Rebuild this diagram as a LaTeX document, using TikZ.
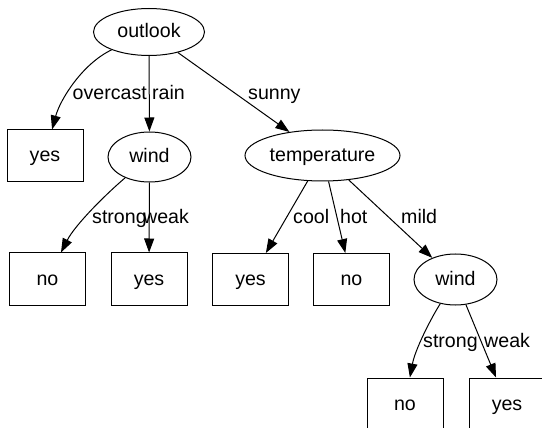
\documentclass[tikz,border=0pt]{standalone}
\usepackage{fontspec}
\setmainfont{Liberation Sans}
\usetikzlibrary{shapes,arrows.meta,positioning}
\tikzset{
  attr/.style={draw, ellipse, inner sep=0pt, text height=14pt, text depth=2pt,
    line width=1pt},
  leaf/.style={draw, rectangle, minimum width=76pt, minimum height=52pt,
    inner sep=0pt, text height=14pt, text depth=2pt, line width=1pt},
  edge/.style={-{Triangle[length=14pt,width=10pt]}, line width=1pt},
  lbl/.style={anchor=base west, inner sep=0pt},
}

\begin{document}
\begin{tikzpicture}[x=1pt, y=-1pt, font=\fontsize{19.6pt}{23pt}\selectfont]
        \useasboundingbox (0,0) rectangle (542,428);

        \node (outlook) [attr, minimum width=111pt, minimum height=47pt] at (149,32) {outlook};

        \node (yesOver) [leaf] at (45,156) {yes};
        \node (windRain) [attr, minimum width=83pt, minimum height=50pt] at (149.5,157) {wind};
        \node (temp) [attr, minimum width=155pt, minimum height=51pt] at (322.5,155.5) {temperature};

        \node (noStrong) [leaf] at (47.5,279) {no};
        \node (yesWeak) [leaf] at (149,279) {yes};
        \node (yesCool) [leaf] at (250.5,279.5) {yes};
        \node (noHot) [leaf] at (351.5,279.5) {no};
        \node (windMild) [attr, minimum width=83pt, minimum height=51pt] at (455.5,279.5) {wind};

        \node (noMild) [leaf] at (405,404) {no};
        \node (yesMild) [leaf] at (507,404) {yes};

        \draw [edge] (outlook) .. controls (82,64) and (60,100) .. (yesOver);
        \draw [edge] (outlook) -- (windRain);
        \draw [edge] (outlook) -- (temp);

        \draw [edge] (windRain) .. controls (105,195) and (75,225) .. (noStrong);
        \draw [edge] (windRain) -- (yesWeak);

        \draw [edge] (temp) -- (yesCool);
        \draw [edge] (temp) -- (noHot);
        \draw [edge] (temp) -- (windMild);

        \draw [edge] (windMild) .. controls (430,320) and (415,350) .. (noMild);
        \draw [edge] (windMild) -- (yesMild);

        \node (lOvercast) [lbl] at (72.5,100) {overcast};
        \node (lRain) [lbl] at (152,100) {rain};
        \node (lSunny) [lbl] at (248,100) {sunny};
        \node (lStrong) [lbl] at (92,224) {strong};
        \node (lWeak) [lbl] at (143,224) {weak};
        \node (lCool) [lbl] at (293,224) {cool};
        \node (lHot) [lbl] at (340,224) {hot};
        \node (lMild) [lbl] at (401,224) {mild};
        \node (lStrongMild) [lbl] at (423,348) {strong};
        \node (lWeakMild) [lbl] at (484,348) {weak};
      \end{tikzpicture}
\end{document}
